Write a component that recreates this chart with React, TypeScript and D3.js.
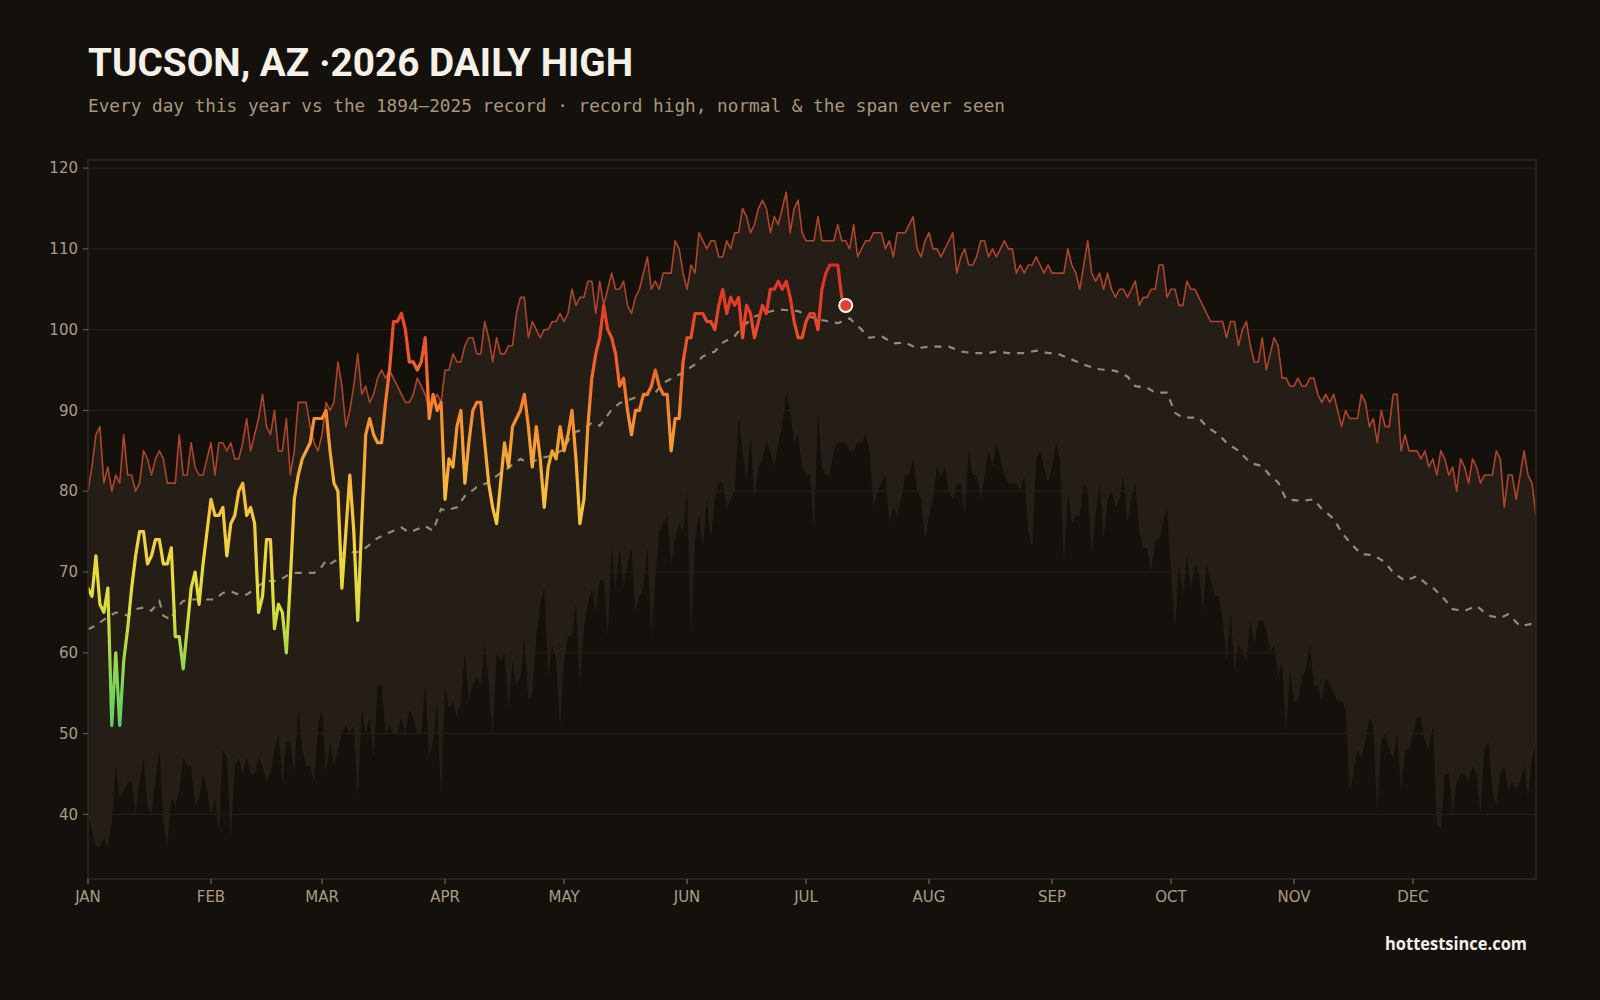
import React from 'react';
import * as d3 from 'd3';

// ---------- DATA ----------
const MONTH_LABELS = ['JAN', 'FEB', 'MAR', 'APR', 'MAY', 'JUN', 'JUL', 'AUG', 'SEP', 'OCT', 'NOV', 'DEC'];
const MONTH_START_DAYS = [0, 31, 59, 90, 120, 151, 181, 212, 243, 273, 304, 334];
const Y_TICKS = [40, 50, 60, 70, 80, 90, 100, 110, 120];

// record high by day of year (1894–2025), °F
const RECORD_HIGH = [
  80, 83, 87, 88, 81, 83, 80, 82, 81, 87,
  82, 82, 80, 81, 85, 84, 82, 84, 85, 84,
  81, 81, 81, 87, 82, 82, 86, 83, 82, 82,
  84, 86, 82, 86, 86, 85, 86, 84, 84, 86,
  89, 85, 87, 89, 92, 88, 87, 90, 85, 85,
  89, 82, 85, 91, 91, 91, 88, 86, 85, 87,
  91, 90, 91, 96, 93, 88, 90, 93, 97, 92,
  93, 91, 92, 94, 95, 94, 95, 94, 93, 92,
  91, 91, 92, 94, 93, 92, 90, 91, 92, 91,
  95, 95, 97, 96, 96, 98, 99, 99, 97, 97,
  101, 99, 96, 99, 97, 97, 98, 98, 102, 104,
  104, 99, 101, 100, 99, 100, 100, 101, 101, 102,
  101, 102, 105, 103, 104, 104, 106, 106, 102, 106,
  103, 105, 107, 105, 105, 106, 103, 102, 104, 105,
  107, 109, 105, 106, 105, 107, 107, 107, 111, 110,
  107, 105, 108, 107, 112, 111, 110, 111, 111, 109,
  109, 111, 110, 112, 112, 115, 114, 112, 113, 115,
  116, 115, 112, 114, 113, 115, 117, 112, 115, 116,
  112, 111, 111, 111, 114, 111, 111, 111, 111, 113,
  111, 111, 110, 113, 109, 110, 111, 111, 112, 112,
  112, 110, 111, 109, 112, 112, 112, 113, 114, 110,
  109, 111, 112, 110, 110, 109, 110, 111, 112, 107,
  109, 110, 108, 108, 109, 111, 111, 109, 110, 109,
  110, 111, 110, 110, 107, 108, 107, 108, 108, 109,
  108, 107, 108, 107, 107, 107, 107, 110, 108, 107,
  105, 108, 111, 107, 106, 107, 105, 107, 105, 104,
  105, 105, 104, 105, 106, 103, 104, 104, 105, 105,
  108, 108, 104, 105, 105, 103, 103, 106, 105, 105,
  104, 103, 102, 101, 101, 101, 101, 99, 101, 101,
  98, 100, 101, 98, 96, 96, 99, 95, 97, 99,
  98, 94, 94, 93, 93, 94, 93, 93, 94, 94,
  92, 91, 92, 91, 92, 90, 88, 90, 89, 89,
  89, 92, 91, 88, 89, 86, 90, 88, 88, 92,
  92, 85, 87, 85, 85, 85, 84, 85, 83, 84,
  82, 85, 84, 82, 83, 80, 84, 83, 81, 84,
  83, 81, 82, 82, 82, 85, 84, 78, 82, 82,
  79, 82, 85, 82, 81, 77,
];

// record low of the daily high by day of year, °F
const RECORD_LOW = [
  40, 38, 36, 36, 37, 36, 39, 46, 42, 43,
  44, 44, 40, 44, 47, 41, 40, 44, 48, 39,
  36, 42, 41, 43, 47, 46, 46, 41, 42, 45,
  43, 40, 42, 38, 48, 47, 37, 46, 47, 45,
  47, 45, 45, 47, 46, 44, 45, 48, 50, 44,
  49, 49, 45, 53, 48, 46, 46, 44, 51, 53,
  45, 49, 46, 48, 50, 51, 50, 51, 42, 53,
  50, 52, 47, 56, 56, 50, 51, 50, 50, 52,
  50, 53, 52, 50, 50, 56, 47, 49, 54, 42,
  56, 53, 54, 52, 54, 60, 54, 56, 57, 56,
  61, 56, 50, 60, 59, 60, 53, 59, 56, 57,
  62, 54, 55, 62, 66, 68, 57, 61, 59, 51,
  59, 62, 62, 66, 56, 63, 66, 68, 65, 69,
  69, 62, 73, 68, 73, 68, 71, 73, 65, 67,
  68, 73, 62, 69, 75, 76, 77, 71, 74, 76,
  75, 80, 62, 74, 77, 73, 79, 74, 79, 81,
  81, 78, 79, 80, 89, 85, 81, 87, 79, 83,
  84, 86, 85, 83, 86, 88, 92, 90, 86, 87,
  83, 82, 82, 75, 90, 83, 82, 82, 85, 86,
  86, 86, 85, 85, 86, 86, 87, 85, 78, 80,
  81, 82, 76, 78, 77, 79, 82, 82, 84, 80,
  79, 74, 77, 79, 83, 82, 83, 80, 79, 81,
  81, 77, 85, 82, 82, 79, 82, 85, 83, 86,
  84, 82, 81, 81, 81, 80, 82, 75, 73, 84,
  85, 83, 81, 83, 86, 84, 71, 80, 76, 77,
  77, 81, 80, 72, 77, 81, 74, 79, 80, 78,
  79, 82, 76, 79, 81, 75, 73, 73, 70, 74,
  74, 76, 78, 70, 63, 71, 67, 72, 68, 71,
  70, 65, 71, 69, 67, 67, 64, 59, 65, 58,
  61, 60, 59, 64, 61, 64, 64, 63, 60, 61,
  57, 59, 50, 58, 54, 54, 57, 58, 61, 56,
  56, 54, 57, 56, 55, 54, 54, 53, 43, 45,
  48, 47, 49, 52, 51, 40, 49, 50, 48, 47,
  50, 43, 48, 48, 50, 52, 52, 49, 48, 51,
  39, 38, 45, 45, 40, 44, 45, 45, 44, 46,
  45, 40, 48, 49, 43, 41, 45, 46, 43, 44,
  43, 44, 46, 42, 47, 49,
];

// normal daily high, read at these days of the year
const NORMAL_DAYS = [
  0, 2, 4, 6, 7, 10, 12, 14, 16, 18, 19, 21, 22, 24, 26, 28, 32, 34, 36, 38, 40, 42, 43, 45, 48, 50, 52, 57,
  59, 60, 61, 63, 65, 67, 69, 71, 73, 76, 79, 81, 85, 87, 89, 90, 93, 95, 98, 101, 103, 106, 109, 111, 115,
  117, 120, 122, 125, 127, 129, 132, 134, 138, 140, 143, 145, 148, 150, 153, 155, 158, 160, 163, 165, 168,
  170, 174, 179, 182, 185, 189, 192, 195, 197, 200, 203, 206, 209, 212, 217, 220, 223, 227, 229, 232, 236,
  239, 242, 244, 247, 249, 252, 255, 259, 262, 264, 267, 269, 272, 274, 276, 280, 282, 285, 287, 290, 293,
  296, 298, 300, 302, 306, 309, 311, 314, 316, 318, 321, 324, 327, 329, 332, 335, 338, 339, 342, 344, 347,
  350, 353, 356, 358, 361, 365,
];
const NORMAL_VALUES = [
  62.9, 63.4, 64.1, 64.7, 65.0, 64.6, 65.4, 65.6, 65.2, 66.4, 64.6, 64.1, 65.4, 66.4, 66.6, 66.6, 66.6, 67.4,
  67.6, 67.2, 67.2, 67.9, 68.3, 68.9, 68.9, 69.5, 69.9, 69.9, 70.7, 71.4, 71.0, 71.6, 72.8, 72.4, 72.6, 73.4,
  74.2, 74.9, 75.5, 74.9, 75.7, 75.1, 77.8, 77.6, 78.0, 79.4, 80.5, 81.1, 81.9, 82.9, 84.0, 83.5, 84.2, 84.4,
  85.2, 87.2, 87.7, 88.5, 88.1, 90.1, 90.9, 91.6, 91.8, 92.2, 93.4, 94.2, 94.7, 95.7, 96.7, 97.3, 98.4, 99.2,
  100.4, 101.6, 102.0, 102.5, 102.3, 101.6, 101.2, 100.8, 101.4, 100.0, 99.0, 99.2, 98.3, 98.4, 97.7, 97.9,
  97.9, 97.3, 97.1, 97.1, 97.3, 97.1, 97.1, 97.4, 97.1, 97.1, 96.5, 96.1, 95.5, 95.1, 94.9, 94.2, 93.0, 92.8,
  92.2, 92.2, 89.7, 89.1, 89.1, 88.0, 87.0, 86.0, 85.0, 83.5, 83.1, 81.9, 81.1, 79.0, 78.8, 79.0, 77.8, 76.6,
  74.9, 73.7, 72.2, 72.1, 71.2, 69.9, 68.9, 69.5, 68.3, 68.1, 66.6, 65.4, 65.2, 65.8, 64.6, 64.3, 64.8, 63.3,
  63.7,
];

// 2026 observed daily highs, Jan 1 onward
const OBSERVED_2026 = [
  68, 67, 72, 66, 65, 68, 51, 60, 51, 59,
  63, 68, 72, 75, 75, 71, 72, 74, 74, 71,
  71, 73, 62, 62, 58, 63, 68, 70, 66, 71,
  75, 79, 77, 77, 78, 72, 76, 77, 80, 81,
  77, 78, 76, 65, 67, 74, 74, 63, 66, 65,
  60, 69, 79, 82, 84, 85, 86, 89, 89, 89,
  90, 85, 81, 80, 68, 75, 82, 75, 64, 76,
  87, 89, 87, 86, 86, 91, 95, 101, 101, 102,
  100, 96, 96, 95, 96, 99, 89, 92, 90, 91,
  79, 84, 83, 88, 90, 81, 86, 90, 91, 91,
  86, 81, 78, 76, 81, 86, 83, 88, 89, 90,
  92, 88, 83, 88, 84, 78, 83, 85, 84, 88,
  85, 87, 90, 84, 76, 79, 88, 94, 97, 99,
  103, 100, 99, 97, 93, 94, 90, 87, 90, 90,
  92, 92, 93, 95, 93, 92, 92, 85, 89, 89,
  96, 99, 99, 102, 102, 102, 101, 101, 100, 103,
  105, 102, 104, 103, 104, 99, 103, 102, 99, 101,
  103, 102, 105, 105, 106, 105, 106, 104, 101, 99,
  99, 101, 102, 102, 100, 105, 107, 108, 108, 108,
  104, 103,
];

// colour ramp for the 2026 line (temperature → colour)
const HEAT_VALUES = [50, 56, 60, 64, 68, 74, 80, 86, 90, 96, 102, 110];
const HEAT_COLORS = ['#5ccf6a', '#7fd455', '#a5d948', '#cfdc3e', '#e6dd3e', '#f4d040', '#f6bb3a', '#f69d33', '#f5872f', '#f0602a', '#e5412a', '#d42a25'];

// ---------- CHART ----------
const W = 1600;
const H = 1000;
const PLOT = { left: 88, right: 1536, top: 160, bottom: 879 };

const BG = '#14110d';
const BAND = '#241e16';
const GRID = '#2a211b';
const FRAME = '#2e271f';
const LABEL = '#a99c84';

export default function App() {
  const x = d3.scaleLinear().domain([0, 365]).range([PLOT.left, PLOT.right]);
  const y = d3.scaleLinear().domain([32, 121]).range([PLOT.bottom, PLOT.top]);

  const bandPath = d3
    .area<number>()
    .x((_, i) => x(i))
    .y0((_, i) => y(RECORD_LOW[i]))
    .y1((d) => y(d))(RECORD_HIGH) as string;

  const highPath = d3
    .line<number>()
    .x((_, i) => x(i))
    .y((d) => y(d))(RECORD_HIGH) as string;

  const normalPath = d3
    .line<number>()
    .x((d) => x(d))
    .y((_, i) => y(NORMAL_VALUES[i]))(NORMAL_DAYS) as string;

  const obsPath = d3
    .line<number>()
    .x((_, i) => x(i))
    .y((d) => y(d))(OBSERVED_2026) as string;

  const lastIdx = OBSERVED_2026.length - 1;
  const g0 = HEAT_VALUES[0];
  const g1 = HEAT_VALUES[HEAT_VALUES.length - 1];

  return (
    <svg
      width={W}
      height={H}
      viewBox={`0 0 ${W} ${H}`}
      style={{ position: 'absolute', left: 0, top: 0, display: 'block' }}
    >
      <defs>
        <linearGradient id="heat" gradientUnits="userSpaceOnUse" x1={0} x2={0} y1={y(g0)} y2={y(g1)}>
          {HEAT_VALUES.map((v, i) => (
            <stop key={v} offset={(v - g0) / (g1 - g0)} stopColor={HEAT_COLORS[i]} />
          ))}
        </linearGradient>
        <clipPath id="plotclip">
          <rect x={PLOT.left} y={PLOT.top} width={PLOT.right - PLOT.left} height={PLOT.bottom - PLOT.top} />
        </clipPath>
      </defs>

      <rect x={0} y={0} width={W} height={H} fill={BG} />

      {/* title */}
      <text
        x={88}
        y={76}
        fill="#f6f1e7"
        fontFamily="Roboto, 'Open Sans', sans-serif"
        fontWeight={700}
        fontSize={38}
        textLength={545}
        lengthAdjust="spacingAndGlyphs"
      >
        TUCSON, AZ ·2026 DAILY HIGH
      </text>
      <text
        x={88}
        y={112}
        fill="#a8987c"
        fontFamily="'DejaVu Sans Mono', monospace"
        fontSize={17}
        textLength={917}
        lengthAdjust="spacingAndGlyphs"
      >
        Every day this year vs the 1894–2025 record · record high, normal &amp; the span ever seen
      </text>

      {/* gridlines */}
      {Y_TICKS.map((t) => (
        <line key={t} x1={PLOT.left} x2={PLOT.right} y1={y(t)} y2={y(t)} stroke={GRID} strokeWidth={1} />
      ))}

      <g clipPath="url(#plotclip)">
        <path d={bandPath} fill={BAND} />
        <path d={normalPath} fill="none" stroke="#a89d87" strokeOpacity={0.85} strokeWidth={2.2} strokeDasharray="7 7" />
        <path d={highPath} fill="none" stroke="#ad452b" strokeWidth={1.6} strokeLinejoin="round" />
        <path
          d={obsPath}
          fill="none"
          stroke="url(#heat)"
          strokeWidth={3.2}
          strokeLinejoin="round"
          strokeLinecap="round"
        />
      </g>
      <circle cx={x(lastIdx)} cy={y(OBSERVED_2026[lastIdx])} r={6.5} fill="#e0402c" stroke="#ffffff" strokeWidth={2} />

      {/* frame */}
      <rect
        x={PLOT.left}
        y={PLOT.top}
        width={PLOT.right - PLOT.left}
        height={PLOT.bottom - PLOT.top}
        fill="none"
        stroke={FRAME}
        strokeWidth={1.5}
      />

      {/* y axis */}
      {Y_TICKS.map((t) => (
        <g key={t}>
          <line x1={PLOT.left - 5} x2={PLOT.left} y1={y(t)} y2={y(t)} stroke="#6f6452" strokeWidth={1} />
          <text
            x={PLOT.left - 10}
            y={y(t)}
            dy="0.35em"
            textAnchor="end"
            fill={LABEL}
            fontFamily="'DejaVu Sans', sans-serif"
            fontSize={15}
          >
            {t}
          </text>
        </g>
      ))}

      {/* x axis */}
      {MONTH_START_DAYS.map((d, i) => (
        <g key={d}>
          <line x1={x(d)} x2={x(d)} y1={PLOT.bottom} y2={PLOT.bottom + 5} stroke="#8a7e6a" strokeWidth={1} />
          <text
            x={x(d)}
            y={902}
            textAnchor="middle"
            fill={LABEL}
            fontFamily="'DejaVu Sans', sans-serif"
            fontSize={15}
          >
            {MONTH_LABELS[i]}
          </text>
        </g>
      ))}

      <text
        x={1527}
        y={950}
        textAnchor="end"
        fill="#f4efe6"
        fontFamily="'Open Sans', Roboto, sans-serif"
        fontWeight={700}
        fontSize={17}
        textLength={142}
        lengthAdjust="spacingAndGlyphs"
      >
        hottestsince.com
      </text>
    </svg>
  );
}
